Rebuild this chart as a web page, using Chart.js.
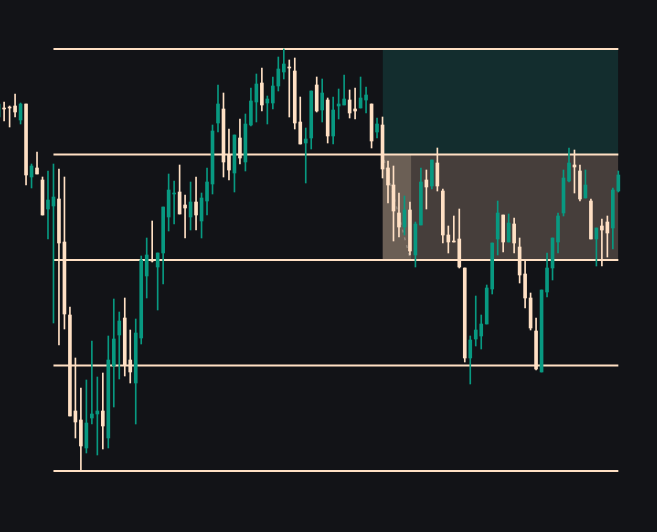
<!DOCTYPE html>
<html>
<head>
  <title>Candles with zones</title>
  <script src="https://cdn.jsdelivr.net/npm/chart.js"></script>
  <style>
    html, body { margin: 0; padding: 0; background: #121317; }
    #wrap { width: 657px; height: 532px; }
  </style>
</head>
<body>
  <div id="wrap">
    <canvas id="candles"></canvas>
  </div>

  <script>
    // OHLC values, one entry per bar (index = bar number)
    const opens = [5354, 5363, 5364, 5365, 5351, 5367, 5294, 5303, 5291, 5262,
                   5265, 5272, 5229, 5156, 5060, 5051, 5023, 5053, 5057, 5060,
                   5033, 5105, 5136, 5153, 5111, 5088, 5133, 5195, 5211, 5204,
                   5218, 5254, 5277, 5279, 5266, 5254, 5269, 5250, 5270, 5287,
                   5348, 5362, 5316, 5298, 5333, 5309, 5346, 5369, 5388, 5368,
                   5368, 5385, 5399, 5404, 5400, 5349, 5328, 5333, 5386, 5361,
                   5371, 5335, 5365, 5366, 5371, 5362, 5363, 5371, 5367, 5339,
                   5346, 5303, 5286, 5258, 5244, 5261, 5216, 5246, 5291, 5285,
                   5308, 5280, 5236, 5230, 5232, 5203, 5113, 5132, 5135, 5147,
                   5182, 5232, 5256, 5229, 5247, 5224, 5197, 5173, 5140, 5099,
                   5179, 5203, 5229, 5258, 5290, 5306, 5300, 5273, 5270, 5232,
                   5245, 5249, 5243, 5280];
    const highs = [5368, 5369, 5365, 5377, 5368, 5367, 5307, 5319, 5294, 5300,
                   5307, 5302, 5294, 5164, 5113, 5083, 5091, 5130, 5094, 5098,
                   5135, 5172, 5159, 5173, 5141, 5152, 5215, 5233, 5250, 5218,
                   5264, 5297, 5290, 5306, 5276, 5289, 5294, 5278, 5303, 5346,
                   5386, 5378, 5342, 5336, 5352, 5357, 5383, 5397, 5403, 5375,
                   5394, 5414, 5422, 5411, 5413, 5374, 5343, 5380, 5394, 5392,
                   5373, 5374, 5382, 5396, 5381, 5383, 5394, 5384, 5367, 5353,
                   5354, 5310, 5305, 5278, 5275, 5269, 5249, 5303, 5301, 5311,
                   5323, 5282, 5245, 5255, 5262, 5203, 5135, 5175, 5156, 5186,
                   5228, 5270, 5256, 5257, 5253, 5233, 5210, 5178, 5153, 5181,
                   5218, 5233, 5258, 5301, 5323, 5321, 5306, 5301, 5272, 5243,
                   5252, 5255, 5283, 5300];
    const lows = [5353, 5350, 5344, 5354, 5347, 5286, 5283, 5297, 5256, 5232,
                  5148, 5126, 5142, 5055, 5033, 5001, 5018, 5047, 5016, 5022,
                  5023, 5064, 5092, 5095, 5088, 5047, 5127, 5173, 5209, 5161,
                  5187, 5240, 5247, 5257, 5233, 5241, 5241, 5233, 5256, 5277,
                  5339, 5294, 5291, 5279, 5307, 5300, 5345, 5349, 5360, 5347,
                  5362, 5380, 5392, 5354, 5342, 5327, 5288, 5322, 5359, 5349,
                  5328, 5327, 5352, 5366, 5353, 5352, 5363, 5358, 5323, 5333,
                  5293, 5268, 5230, 5234, 5236, 5216, 5204, 5246, 5262, 5282,
                  5280, 5228, 5218, 5229, 5203, 5109, 5087, 5125, 5122, 5147,
                  5177, 5216, 5219, 5229, 5218, 5188, 5163, 5141, 5101, 5099,
                  5174, 5191, 5218, 5255, 5289, 5278, 5270, 5273, 5232, 5205,
                  5205, 5214, 5222, 5279];
    const closes = [5367, 5362, 5363, 5359, 5367, 5296, 5305, 5297, 5256, 5271,
                    5274, 5228, 5157, 5055, 5049, 5025, 5048, 5057, 5060, 5045,
                    5111, 5132, 5150, 5106, 5099, 5138, 5211, 5216, 5210, 5218,
                    5264, 5281, 5278, 5257, 5263, 5269, 5256, 5273, 5289, 5340,
                    5367, 5309, 5301, 5336, 5313, 5347, 5370, 5387, 5366, 5372,
                    5385, 5402, 5407, 5403, 5348, 5327, 5332, 5380, 5360, 5378,
                    5335, 5361, 5367, 5372, 5358, 5360, 5373, 5376, 5330, 5347,
                    5302, 5286, 5260, 5244, 5261, 5220, 5247, 5289, 5284, 5311,
                    5285, 5236, 5229, 5229, 5204, 5113, 5131, 5141, 5147, 5183,
                    5228, 5258, 5229, 5248, 5228, 5196, 5173, 5143, 5102, 5181,
                    5203, 5233, 5255, 5293, 5308, 5304, 5272, 5286, 5232, 5243,
                    5241, 5238, 5281, 5296];

    // horizontal levels and zones
    const levels = [5422, 5316.5, 5211, 5105.5, 5000];
    const levelStart = 10;
    const levelEnd = 113;
    const zoneStart = 70;
    const zoneEnd = 113;
    const entryEnd = 75.25;
    const pathIdx = [70.3, 75.0];
    const pathPrice = [5311, 5213];

    const UP = '#089981';
    const DOWN = '#ffe0c4';
    const bg = '#121317';

    const idx = opens.map((_, i) => i);
    const candleColors = idx.map(i => closes[i] >= opens[i] ? UP : DOWN);

    const bodies = idx.map(i => ({ x: i, y: [opens[i], closes[i]] }));
    const wicks = idx.map(i => ({ x: i, y: [lows[i], highs[i]] }));

    function zone(from, to, top, bottom, color, order) {
      return {
        type: 'line',
        data: [{ x: from, y: top }, { x: to, y: top }],
        fill: { value: bottom },
        backgroundColor: color,
        borderWidth: 0,
        pointRadius: 0,
        order: order
      };
    }

    const levelSets = levels.map(v => ({
      type: 'line',
      data: [{ x: levelStart, y: v }, { x: levelEnd, y: v }],
      borderColor: DOWN,
      borderWidth: 2,
      pointRadius: 0,
      fill: false,
      order: 3
    }));

    const ctx = document.getElementById('candles').getContext('2d');
    new Chart(ctx, {
      type: 'bar',
      data: {
        datasets: [
          {
            data: bodies,
            backgroundColor: candleColors,
            barThickness: 3,
            minBarLength: 1,
            grouped: false,
            order: 0
          },
          {
            data: wicks,
            backgroundColor: candleColors,
            barThickness: 1,
            grouped: false,
            order: 1
          },
          {
            type: 'line',
            data: pathIdx.map((x, i) => ({ x: x, y: pathPrice[i] })),
            borderColor: 'rgba(175,165,155,0.55)',
            borderWidth: 1.5,
            borderDash: [3, 5],
            pointRadius: 0,
            fill: false,
            order: 2
          },
          ...levelSets,
          zone(zoneStart, entryEnd, levels[1], levels[2], '#6b5f55', 4),
          zone(zoneStart, zoneEnd, levels[1], levels[2], '#463e3b', 5),
          zone(zoneStart, zoneEnd, levels[0], levels[1], '#132d2e', 6)
        ]
      },
      options: {
        responsive: true,
        maintainAspectRatio: false,
        animation: false,
        layout: { padding: 0 },
        plugins: {
          legend: { display: false },
          tooltip: { enabled: false }
        },
        scales: {
          x: {
            type: 'linear',
            min: 0.25,
            max: 120.05,
            offset: false,
            display: false
          },
          y: {
            min: 4939,
            max: 5471,
            display: false
          }
        }
      }
    });
  </script>
</body>
</html>
